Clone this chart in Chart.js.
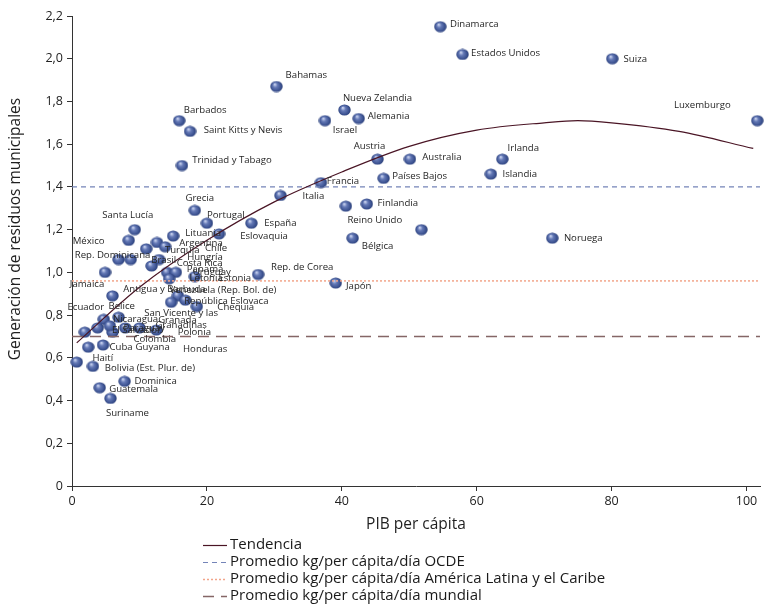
<!DOCTYPE html>
<html>
<head>
<meta charset="utf-8">
<script src="https://cdn.jsdelivr.net/npm/chart.js@4/dist/chart.umd.min.js"></script>
<style>
html,body{margin:0;padding:0;background:#fff;}
#wrap{width:767px;height:607px;position:relative;}
</style>
</head>
<body>
<div id="wrap"><canvas id="c" width="767" height="607"></canvas></div>
<script>
// ---- DATA ----
const countries = ["Dinamarca","Estados Unidos","Suiza","Bahamas","Nueva Zelandia","Alemania","Israel","Luxemburgo","Barbados","Saint Kitts y Nevis",
"Austria","Australia","Irlanda","Islandia","Trinidad y Tabago","Países Bajos","Francia","Italia","Finlandia","Reino Unido",
"","Bélgica","Noruega","Japón","Rep. de Corea","España","Eslovaquia","Grecia","Portugal","Lituania",
"Santa Lucía","México","Rep. Dominicana","Brasil","Turquía","Argentina","Chile","Hungría","Costa Rica","Panamá",
"Uruguay","Letonia","Estonia","Jamaica","Antigua y Barbuda","Venezuela (Rep. Bol. de)","República Eslovaca","Chequia","San Vicente y las\nGranadinas","Ecuador",
"Belice","Nicaragua","Granada","Paraguay","El Salvador","Polonia","Colombia","Guyana","Cuba","Honduras",
"Haití","Bolivia (Est. Plur. de)","Dominica","Guatemala","Suriname"];
const gdpPerCapita = [54.6,57.9,80.1,30.3,40.4,42.5,37.5,101.6,15.9,17.5,
45.3,50.1,63.8,62.1,16.3,46.2,36.9,30.9,43.7,40.6,
51.8,41.6,71.2,39.1,27.6,26.6,21.8,18.2,20.0,15.0,
9.3,8.4,6.9,8.7,11.0,12.6,13.8,12.9,11.8,14.1,
15.4,14.4,18.2,4.9,6.0,15.7,16.8,18.5,14.7,1.9,
4.7,6.9,10.0,7.9,6.0,12.5,5.6,3.8,4.6,2.4,
0.7,3.1,7.8,4.1,5.7];
const wastePerCapita = [2.15,2.02,2.00,1.87,1.76,1.72,1.71,1.71,1.71,1.66,
1.53,1.53,1.53,1.46,1.50,1.44,1.42,1.36,1.32,1.31,
1.20,1.16,1.16,0.95,0.99,1.23,1.18,1.29,1.23,1.17,
1.20,1.15,1.06,1.06,1.11,1.14,1.12,1.06,1.03,1.00,
1.00,0.97,0.98,1.00,0.89,0.89,0.87,0.84,0.86,0.72,
0.78,0.79,0.74,0.74,0.72,0.73,0.75,0.74,0.66,0.65,
0.58,0.56,0.49,0.46,0.41];
const trendX = [0.7,10,20,30,40,50,60,70,75,80,90,101];
const trendY = [0.67,0.93,1.15,1.33,1.47,1.59,1.666,1.70,1.71,1.70,1.66,1.58];
const oecdAvg = [1.40, 1.40];
const lacAvg = [0.96, 0.96];
const worldAvg = [0.70, 0.70];
const avgX = [0, 102];
const xTicks = [0,20,40,60,80,100];
const yTicks = [0,0.2,0.4,0.6,0.8,1.0,1.2,1.4,1.6,1.8,2.0,2.2];
const xTitle = 'PIB per cápita';
const yTitle = 'Generación de residuos municipales';
const legendLabels = ["Tendencia","Promedio kg/per cápita/día OCDE","Promedio kg/per cápita/día América Latina y el Caribe","Promedio kg/per cápita/día mundial"];

// ---- LAYOUT (label offsets in px from each point, label centre) ----
const labelOffsets = [[34,-2],[43,-1],[23,1],[30,-11],[33,-12],[30,-2],[20,10],[-55,-15],[26,-10],[53,-1],
[-8,-13],[32,-2],[21,-11],[29,0],[50,-5],[36,-2],[22,-1],[33,1],[31,-1],[29,14],
[0,0],[25,8],[31,0],[23,3],[44,-7],[29,0],[45,2],[5,-12],[19,-8],[30,-3],
[-7,-14],[-40,1],[-6,-4],[33,1],[36,1],[44,1],[51,2],[46,-2],[48,-3],[38,-3],
[36,0],[37,-1],[40,2],[-18,12],[52,-7],[45,-6],[41,1],[39,1],[10,11],[1,-25],
[18,-13],[17,2],[38,-8],[19,0],[24,-2],[38,2],[45,13],[55,19],[18,2],[117,2],
[26,-4],[57,2],[31,0],[34,2],[17,15]];

function makeSphere(){
  const c = document.createElement('canvas'); c.width = 13; c.height = 12;
  const g = c.getContext('2d');
  const grd = g.createRadialGradient(4.8,3.8,0.4,6.5,6.5,7);
  grd.addColorStop(0,'#c9d3ef'); grd.addColorStop(0.3,'#6479b6'); grd.addColorStop(0.75,'#354b8a'); grd.addColorStop(1,'#243564');
  g.fillStyle = grd; g.beginPath(); g.ellipse(6.5,6,6.2,5.6,0,0,Math.PI*2); g.fill();
  return c;
}
const sphere = makeSphere();

const FONT = "'Open Sans', Lato, sans-serif";
const lineStyles = [
  {color:'#4a1525', dash:[], width:1.2},
  {color:'#7484b8', dash:[5,4], width:1.2},
  {color:'#f2a58a', dash:[2,2], width:1.5},
  {color:'#856666', dash:[11,7], width:1.6}
];

const pointsData = gdpPerCapita.map((x,i)=>({x:x, y:wastePerCapita[i]}));
const mk = arr => avgX.map((x,i)=>({x:x, y:arr[i]}));

const labelPlugin = {
  id:'pointLabels',
  afterDatasetsDraw(chart){
    const meta = chart.getDatasetMeta(4);
    const ctx = chart.ctx;
    ctx.save();
    ctx.font = "9.6px " + FONT;
    ctx.fillStyle = '#262626';
    ctx.textAlign = 'center'; ctx.textBaseline = 'middle';
    meta.data.forEach((el,i)=>{
      const name = countries[i]; if(!name) return;
      const lines = name.split('\n');
      const [dx,dy] = labelOffsets[i];
      lines.forEach((ln,k)=> ctx.fillText(ln, el.x+dx, el.y+dy+k*12));
    });
    ctx.restore();
  }
};
const legendPlugin = {
  id:'customLegend',
  afterDraw(chart){
    const ctx = chart.ctx;
    ctx.save();
    // y axis title
    ctx.font = "15.5px " + FONT;
    ctx.fillStyle = '#1f1f1f';
    ctx.textAlign = 'center'; ctx.textBaseline = 'middle';
    ctx.translate(16, 229); ctx.rotate(-Math.PI/2);
    ctx.fillText(yTitle, 0, 0);
    ctx.setTransform(1,0,0,1,0,0);
    ctx.textAlign='left';
    ctx.font = "15px " + FONT;
    legendLabels.forEach((t,i)=>{
      const y = 545 + i*17;
      const s = lineStyles[i];
      ctx.strokeStyle = s.color; ctx.lineWidth = s.width; ctx.setLineDash(s.dash);
      ctx.beginPath(); ctx.moveTo(203,y+0.5); ctx.lineTo(227,y+0.5); ctx.stroke();
      ctx.setLineDash([]);
      ctx.fillStyle = '#1a1a1a';
      ctx.fillText(t, 230, y);
    });
    ctx.restore();
  }
};

new Chart(document.getElementById('c'), {
  type:'scatter',
  data:{
    datasets:[
      {type:'line', label:legendLabels[0], data:trendX.map((x,i)=>({x:x,y:trendY[i]})), borderColor:lineStyles[0].color, borderWidth:lineStyles[0].width, pointRadius:0, cubicInterpolationMode:'monotone', fill:false},
      {type:'line', label:legendLabels[1], data:mk(oecdAvg), borderColor:lineStyles[1].color, borderDash:lineStyles[1].dash, borderWidth:lineStyles[1].width, pointRadius:0, fill:false},
      {type:'line', label:legendLabels[2], data:mk(lacAvg), borderColor:lineStyles[2].color, borderDash:lineStyles[2].dash, borderWidth:lineStyles[2].width, pointRadius:0, fill:false},
      {type:'line', label:legendLabels[3], data:mk(worldAvg), borderColor:lineStyles[3].color, borderDash:lineStyles[3].dash, borderWidth:lineStyles[3].width, pointRadius:0, fill:false},
      {label:'Países', data:pointsData, pointStyle:sphere, pointRadius:6, clip:false}
    ]
  },
  options:{
    responsive:false, animation:false,
    layout:{padding:{top:16,right:0,left:0,bottom:0}},
    plugins:{legend:{display:false}, tooltip:{enabled:false}},
    scales:{
      x:{type:'linear', min:0, max:102,
        afterBuildTicks(ax){ ax.ticks = xTicks.map(v=>({value:v})); },
        afterFit(s){ s.height = 121; },
        grid:{drawOnChartArea:false, drawTicks:true, tickLength:5, color:'#333'},
        border:{color:'#333', width:1},
        ticks:{color:'#222', font:{family:FONT, size:12.5}, padding:3, maxRotation:0},
        title:{display:true, text:xTitle, color:'#1f1f1f', font:{family:FONT, size:15.5}, padding:{bottom:72.7, top:0}}
      },
      y:{type:'linear', min:0, max:2.2,
        afterBuildTicks(ax){ ax.ticks = yTicks.map(v=>({value:v})); },
        afterFit(s){ s.width = 72; },
        grid:{drawOnChartArea:false, drawTicks:true, tickLength:5, color:'#333'},
        border:{color:'#333', width:1},
        ticks:{color:'#222', font:{family:FONT, size:12.5}, padding:4,
          callback:v=> v===0 ? '0' : v.toFixed(1).replace('.',',')},
        title:{display:false}
      }
    }
  },
  plugins:[labelPlugin, legendPlugin]
});
</script>
</body>
</html>
